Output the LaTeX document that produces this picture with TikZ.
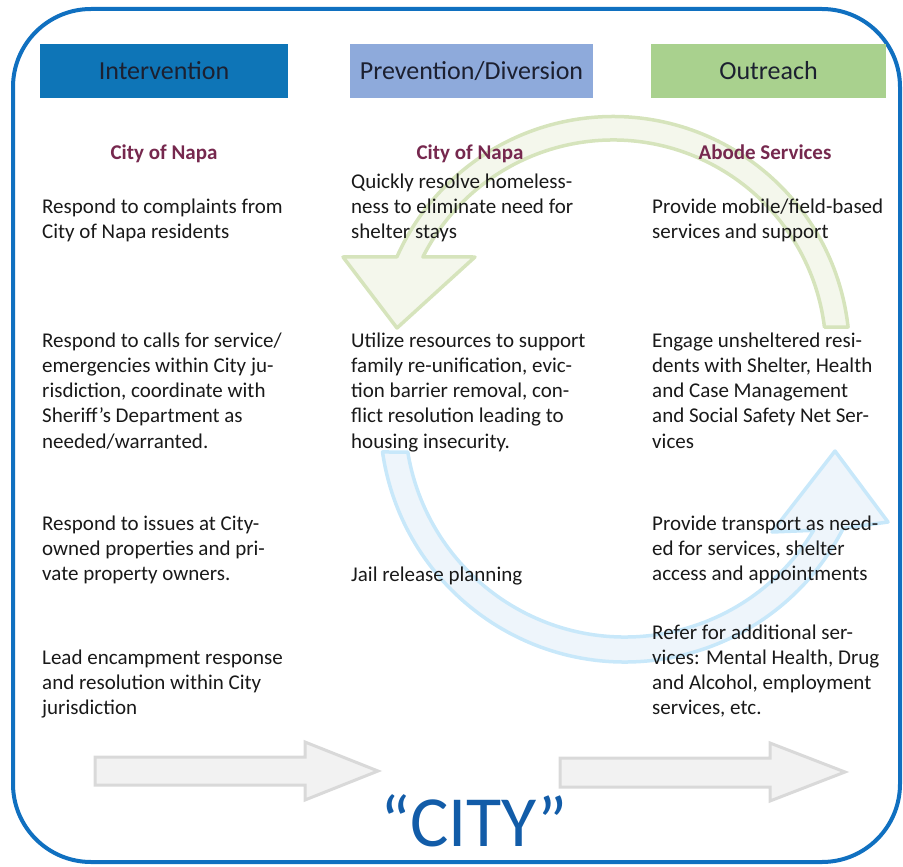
\documentclass[tikz,border=0pt]{standalone}
\usepackage{fontspec}
\setmainfont{Carlito}
\usetikzlibrary{calc}
\definecolor{frameblue}{RGB}{16,112,192}
\definecolor{hdrA}{RGB}{14,117,183}
\definecolor{hdrB}{RGB}{142,170,219}
\definecolor{hdrC}{RGB}{169,209,142}
\definecolor{hdrtext}{RGB}{28,32,48}
\definecolor{bodytext}{RGB}{25,25,25}
\definecolor{subcol}{RGB}{118,40,78}
\definecolor{cityblue}{RGB}{18,92,168}
\definecolor{gline}{RGB}{214,228,188}
\definecolor{gfill}{RGB}{244,247,236}
\definecolor{bline}{RGB}{200,232,250}
\definecolor{bfill}{RGB}{238,245,251}
\definecolor{aline}{RGB}{217,217,217}
\definecolor{afill}{RGB}{242,242,242}
\newcommand\colpara[4]{%
  \foreach \ln [count=\i] in {#4}
    \node[body] (#1-\i) at (#2, {#3+25.25*(\i-1)}) {\ln};}
\begin{document}
\begin{tikzpicture}[x=1pt,y=-1pt,
  body/.style={anchor=base west, inner sep=0pt, font=\fontsize{21}{25}\selectfont, text=bodytext},
  subhd/.style={anchor=base, inner sep=0pt, font=\bfseries\fontsize{21}{25}\selectfont, text=subcol},
  hdr/.style={inner sep=0pt, minimum height=54pt, font=\fontsize{26}{30}\selectfont, text=hdrtext},
  garrow/.style={draw=gline, fill=gfill, line width=3.5pt, line join=round},
  barrow/.style={draw=bline, fill=bfill, line width=3.5pt, line join=round},
  flat/.style={draw=aline, fill=afill, line width=3pt, line join=miter}]
\useasboundingbox (0,0) rectangle (903,867);
% outer frame
\draw[frameblue, line width=4pt, rounded corners=78pt] (13,9) rectangle (900,862);
% headers
\node[hdr, fill=hdrA, minimum width=248pt] (h1) at (164,71) {\raisebox{-2pt}{Intervention}};
\node[hdr, fill=hdrB, minimum width=243pt] (h2) at (471.5,71) {\raisebox{-2pt}{Prevention/Diversion}};
\node[hdr, fill=hdrC, minimum width=235pt] (h3) at (768.5,71) {\raisebox{-2pt}{Outreach}};
% green circular arrow
\coordinate (gc) at (613,353);
\draw[garrow] ($(gc)+(-6.3:236.5)$) arc[start angle=-6.3, end angle=-156, radius=236.5]
  -- (343,257) -- (397,328) -- (475,257)
  -- ($(gc)+(-153.2:213)$) arc[start angle=-153.2, end angle=-7, radius=213] -- cycle;
% blue circular arrow
\coordinate (bc) at (625,417);
\draw[barrow] ($(bc)+(171.8:245)$) arc[start angle=171.8, end angle=27, radius=245]
  -- (888,522) -- (835,451) -- (772,532)
  -- ($(bc)+(31:220)$) arc[start angle=31, end angle=170.8, radius=220] -- cycle;
% bottom arrows
\draw[flat] (95,757) -- (305,757) -- (305,742) -- (378,771) -- (305,800) -- (305,785) -- (95,785) -- cycle;
\draw[flat] (560,758) -- (770,758) -- (770,743) -- (845,772) -- (770,801) -- (770,787) -- (560,787) -- cycle;
% sub headers
\node[subhd] (s1) at (164,159) {City of Napa};
\node[subhd] (s2) at (470,159) {City of Napa};
\node[subhd] (s3) at (765,159) {Abode Services};
% column 1
\colpara{a1}{42}{213}{Respond to complaints from, City of Napa residents}
\colpara{a2}{42}{347}{Respond to calls for service/, emergencies within City ju-, {risdiction, coordinate with}, Sheriff’s Department as, needed/warranted.}
\colpara{a3}{42}{530}{Respond to issues at City-, owned properties and pri-, vate property owners.}
\colpara{a4}{42}{664}{Lead encampment response, and resolution within City, jurisdiction}
% column 2
\colpara{b1}{351}{188}{Quickly resolve homeless-, ness to eliminate need for, shelter stays}
\colpara{b2}{351}{347}{Utilize resources to support, {family re-unification, evic-}, {tion barrier removal, con-}, flict resolution leading to, housing insecurity.}
\colpara{b3}{351}{581}{Jail release planning}
% column 3
\colpara{c1}{652}{213}{Provide mobile/field-based, services and support}
\colpara{c2}{652}{347}{Engage unsheltered resi-, {dents with Shelter, Health}, and Case Management, and Social Safety Net Ser-, vices}
\colpara{c3}{652}{530}{Provide transport as need-, {ed for services, shelter}, access and appointments}
\colpara{c4}{652}{639}{Refer for additional ser-, {vices: Mental Health, Drug}, {and Alcohol, employment}, {services, etc.}}
% city
\node[inner sep=0pt, font=\fontsize{72}{80}\selectfont, text=cityblue] (city) at (474,821) {“CITY”};
\end{tikzpicture}
\end{document}
